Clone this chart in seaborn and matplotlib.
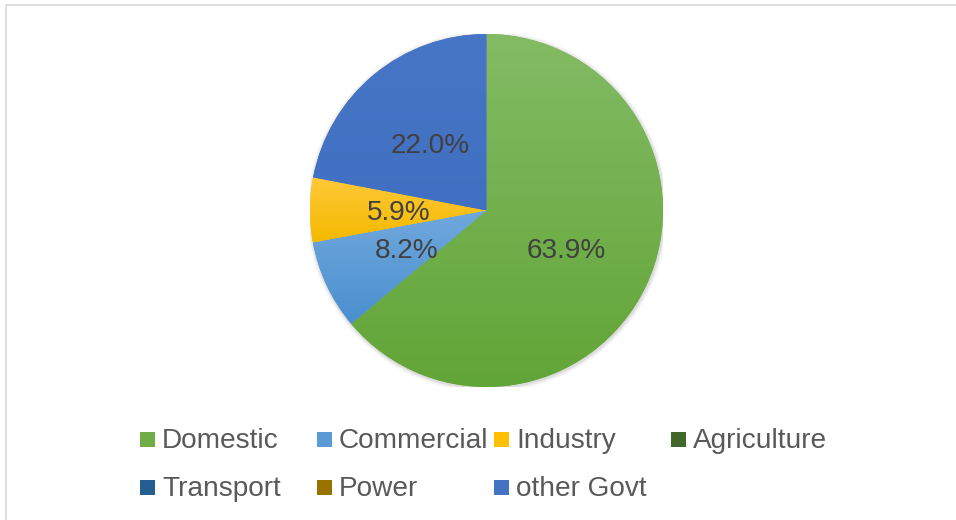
import numpy as np
import matplotlib
matplotlib.use("Agg")
import matplotlib.pyplot as plt
import matplotlib.colors as mcolors
import matplotlib.transforms as mtransforms
from matplotlib.patches import Rectangle, Circle
import seaborn as sns

# Energy consumption share by sector (%)
sectors = ["Domestic", "Commercial", "Industry", "Agriculture",
           "Transport", "Power", "other Govt"]
shares = [63.9, 8.2, 5.9, 0.0, 0.0, 0.0, 22.0]

# Sector colours (base) plus light/dark ends for the slice gradients
palette = ["#70AD47", "#5B9BD5", "#FFC000", "#43682B",
           "#255E91", "#997300", "#4472C4"]
grad_top = ["#83BB64", "#70A8DC", "#FFC93A", "#4E7535",
            "#2F6A9E", "#A88010", "#4876C7"]
grad_bottom = ["#62A537", "#4A8FD0", "#F4BA00", "#3A5E24",
               "#1F5488", "#8C6800", "#416FC1"]

sns.set_theme(style="white")
plt.rcParams["font.family"] = ["Liberation Sans", "DejaVu Sans"]

W, H = 956, 520
fig = plt.figure(figsize=(W / 100, H / 100), dpi=100)
fig.patch.set_facecolor("white")


def fx(px):
    return px / W


def fy(py):
    return 1 - py / H


# chart-area border (top and left edges visible)
fig.add_artist(Rectangle((fx(6), fy(H + 20)), fx(W + 40), fy(5) - fy(H + 20),
                         transform=fig.transFigure, fill=False,
                         edgecolor="#D9D9D9", linewidth=1.2))

# pie axes
cx, cy, r = 486.5, 210.5, 176.5
ax = fig.add_axes([fx(cx - r), fy(cy + r), fx(2 * r), (2 * r) / H])
ax.set_axis_off()

# soft outer shadow
for k, a in enumerate([0.05, 0.04, 0.03, 0.02]):
    ax.add_patch(Circle((0.004, -0.006), 1.0 + 0.006 * (k + 1),
                        facecolor="black", edgecolor="none", alpha=a, zorder=0))


def pct_label(p):
    return f"{p:.1f}%" if p > 0.05 else ""


wedges, texts, autotexts = ax.pie(
    shares, colors=palette, startangle=90, counterclock=False,
    radius=1.0, autopct=pct_label, pctdistance=0.5,
    wedgeprops=dict(linewidth=0, edgecolor="none"),
    textprops=dict(color="#404040", fontsize=20.2))

for w in wedges:
    w.set_zorder(1)
label_shift = mtransforms.ScaledTranslation(0, -3 / 100, fig.dpi_scale_trans)
for t in autotexts:
    t.set_zorder(5)
    t.set_transform(t.get_transform() + label_shift)

# vertical gradient fill inside each visible slice
for i, w in enumerate(wedges):
    if shares[i] <= 0:
        continue
    ext = w.get_path().get_extents()
    c_top = np.array(mcolors.to_rgb(grad_top[i]))
    c_bot = np.array(mcolors.to_rgb(grad_bottom[i]))
    t = np.linspace(0, 1, 256)[:, None]
    img = (c_top[None, :] * (1 - t) + c_bot[None, :] * t)[:, None, :]
    im = ax.imshow(img, extent=(ext.x0, ext.x1, ext.y0, ext.y1),
                   origin="upper", aspect="auto", zorder=2,
                   interpolation="bilinear")
    im.set_clip_path(w)

ax.set_xlim(-1, 1)
ax.set_ylim(-1, 1)
ax.set_aspect("equal")

# legend laid out in fixed-width columns
col_text_x = [162, 339, 516, 693]
row_y = [439.5, 487.5]
for i, name in enumerate(sectors):
    row, col = divmod(i, 4)
    tx = col_text_x[col]
    ty = row_y[row]
    fig.add_artist(Rectangle((fx(tx - 22), fy(ty + 7.5)), fx(15), 15 / H,
                             transform=fig.transFigure, facecolor=palette[i],
                             edgecolor="none"))
    fig.text(fx(tx), fy(ty + 2), name, color="#595959", fontsize=20.2,
             ha="left", va="center")

fig.savefig("out.png", dpi=100, facecolor="white")
